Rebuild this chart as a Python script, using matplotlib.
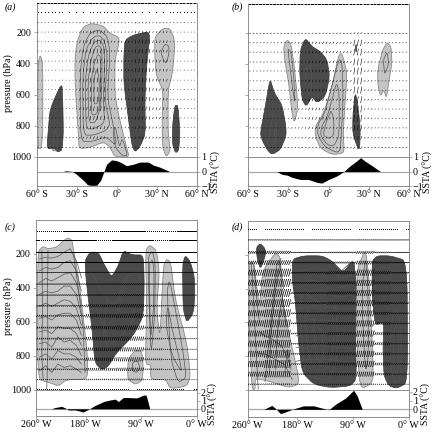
import numpy as np
import matplotlib
matplotlib.use('Agg')
import matplotlib.pyplot as plt
from matplotlib.path import Path
from matplotlib.patches import PathPatch

plt.rcParams['font.family'] = ['Liberation Serif', 'DejaVu Serif']
plt.rcParams['font.size'] = 7.2

LIGHT = '#c4c4c4'
DARK = '#4a4a4a'
FRAME = '#8c8c8c'

# --- panel a ---
a_light = [
    ([-59, -59, -57.3, -55.3, -55.3, -56.5], [947, 423, 343, 401, 850, 947]),
    ([-28.2, -28.7, -31.2, -31.2, -29.4, -25, -18.8, -10, -5.1, 1.1, 1.9, -1.4, -1.4, 1.1, 7.3, 9.3, -1.4, -5.1, -10, -18.8],
     [947, 850, 530, 358, 251, 166, 144, 161, 209, 230, 262, 380, 594, 722, 936, 1000, 1000, 936, 904, 936]),
    ([28.4, 34.7, 39.6, 42.6, 43.4, 41.6, 38.4, 38.4, 40.1, 37.1, 34.2, 33.9, 34.7, 29.7, 28.4],
     [230, 176, 176, 230, 294, 465, 572, 850, 958, 1000, 936, 744, 572, 487, 358]),
]
a_dark = [
    ([-52.3, -51, -49.8, -41, -40.4, -39.9, -41, -44.3, -46.1], [947, 808, 690, 523, 637, 850, 958, 968, 947]),
    ([6.1, 12.3, 23.5, 24.7, 22.2, 21, 21.5, 17.3, 13.5, 11.1, 8.6, 5.3, 5.3],
     [251, 219, 198, 230, 423, 637, 850, 936, 968, 915, 744, 530, 358]),
    ([43.4, 45.8, 47.3, 46.3, 43.9, 41.6, 41.6], [669, 669, 850, 958, 974, 915, 808]),
]
a_lines = [
    ([-27, -27.5, -25, -20, -13, -7, -5, -7, -3, 0, -8, -18], [900, 480, 290, 205, 185, 230, 330, 620, 780, 930, 870, 900]),
    ([-25, -25.5, -23, -18, -13, -9, -7, -9, -5, -8, -17], [860, 490, 310, 235, 220, 260, 350, 640, 790, 830, 860]),
    ([-23, -23.5, -21, -17, -13, -10, -9, -10, -9, -17], [820, 500, 340, 265, 250, 285, 370, 650, 780, 820]),
    ([-21, -21.5, -19, -16, -13, -11, -11, -12, -16], [780, 510, 370, 295, 285, 320, 500, 680, 780]),
    ([-19, -19, -17, -14, -12, -12, -13, -16], [730, 510, 400, 340, 360, 520, 690, 730]),
    ([-17, -17, -15, -13, -13.5, -15], [660, 500, 430, 500, 640, 660]),
    ([2, 4, 6, 8, 4, -1, -3, -1], [940, 880, 930, 990, 990, 940, 850, 800]),
    ([9, 13, 19, 20, 17, 15, 12, 9.5], [360, 285, 265, 300, 480, 700, 700, 500]),
    ([12, 15, 18, 17.5, 15, 13], [350, 310, 300, 450, 500, 450]),
    ([33, 36, 39, 39, 37, 35], [330, 275, 290, 340, 400, 380]),
    ([-48, -46, -44, -44.5, -47], [960, 810, 900, 960, 960]),
]
a_open = []
a_levels = [16, 76, 140, 200, 262, 322, 386, 444, 508, 568, 630, 690, 750, 812, 876, 940]
a_u = [1.7, 0.6, 0.8, 0.6, 0.5, 0.5, 0.5, 0.4, 0.4, 0.4, 0.5, 0.5, 0.6, 0.6, 0.8, 1.0]
a_edges = [-60, -30, -20, -8, 3, 14, 25, 38, 60]
a_v = [4, 18, 30, 10, 12, 26, 16, 4]
a_vf = [0, 0, 0.3, 0.6, 1, 1, 1, 1, 1, 1, 1, 1, 0.8, 0.6, 0.5, 0.3]
a_sst_lon = [-60, -40, -38, -33, -30, -25, -22, -20, -15, -12, -10, -7.6, -3.9, -0.1, 3.6, 7.3, 12.3, 17.3, 23.5, 27.2, 32.2, 37.1, 39.6, 60]
a_sst = [0, 0, 0.05, 0, -0.2, -0.6, -0.9, -0.95, -0.95, -0.6, -0.1, 0.5, 0.8, 0.75, 0.6, 0.4, 0.5, 0.65, 0.65, 0.45, 0.3, 0.1, 0, 0]

# --- panel b ---
b_light = [
    ([-33.6, -31.1, -28.1, -25.6, -23.6, -23.1, -25.6, -27.3, -29.8, -32.8], [286, 243, 265, 415, 587, 695, 780, 716, 522, 372]),
    ([7.6, 10.1, 13.9, 12.6, 10.9, 11.9, 2.6, -6.1, -9.9, -9.9, -3.6, 2.6], [340, 329, 458, 630, 845, 974, 985, 942, 866, 802, 716, 544]),
    ([36.8, 40.5, 43.8, 46.8, 47.5, 45, 43.3, 41.3, 38.8, 36.8], [436, 307, 260, 286, 393, 522, 619, 565, 608, 522]),
]
b_dark = [
    ([-51, -47.3, -44.8, -43.5, -40.5, -34.8, -31.8, -31.8, -36, -42.3, -46, -49.8], [845, 673, 544, 501, 587, 662, 802, 866, 952, 985, 952, 888]),
    ([-21.1, -17.3, -12.3, -6.1, -1.1, 0.9, -2.4, -8.6, -12.3, -16.6, -19.8, -21.6], [307, 232, 286, 318, 372, 479, 608, 651, 608, 673, 630, 458]),
    ([20.1, 21.3, 23.8, 23.3, 21.3, 18.1, 18.3], [587, 630, 802, 952, 931, 845, 716]),
    ([20.3, 21, 21, 20.3], [275, 275, 318, 318]),
]
b_lines = [
    ([-44, -41, -39, -39, -42, -45, -46], [880, 680, 790, 900, 950, 950, 880]),
    ([-41, -40, -40.5, -42], [900, 800, 900, 930]),
    ([-30.5, -28, -26, -25, -27, -29], [300, 320, 480, 660, 550, 400]),
    ([-17, -14, -12, -14, -17], [420, 400, 500, 590, 560]),
    ([8, 10, 11, 9, 7, 3, -3, -8, -8, -3, 2, 6], [370, 380, 620, 950, 970, 960, 930, 860, 790, 720, 560, 420]),
    ([6, 8, 8, 4, -1, -6, -5, -1, 3], [520, 580, 860, 930, 920, 860, 800, 740, 620]),
    ([2, 4, 4, 0, -4, -2, 1], [700, 760, 860, 880, 860, 780, 720]),
    ([41, 44, 45, 42], [370, 320, 400, 470]),
]
b_open = []
b_levels = [16, 76, 140, 200, 262, 322, 386, 444, 508, 568, 630, 690, 750, 812, 876, 940]
b_u = [1.7, 1.3, 1.3, 1.3, 1.0, 0.9, 0.9, 0.8, 0.8, 0.8, 0.8, 0.7, 0.7, 0.8, 1.0, 1.2]
b_edges = [-60, -30, -15, 0, 12, 18, 26, 34, 60]
b_v = [3, 8, 16, 12, 10, 44, 8, 3]
b_vf = [0, 0, 0, 0.2, 0.9, 1, 1, 1, 1, 1, 1, 1, 1, 0.8, 0.5, 0.3]
b_sst_lon = [-60, -38.5, -34.8, -31, -27.3, -21, -15, -8.6, -5, 0, 6.4, 11.4, 16.3, 20, 24, 27.6, 32.6, 38.8, 60]
b_sst = [0, 0, -0.2, -0.25, -0.4, -0.55, -0.55, -0.75, -0.8, -0.55, -0.3, 0, 0.4, 0.65, 0.95, 0.7, 0.4, 0, 0]

# --- panel c ---
c_light = [
    ([-258, -249, -241, -227, -216, -208, -202, -200, -192, -184, -177, -177, -211, -224, -238, -258],
     [190, 155, 170, 160, 121, 105, 121, 170, 328, 565, 800, 941, 941, 980, 960, 941]),
    ([-83, -76, -65, -60.5, -65, -59.5, -54, -48.6, -42, -35, -16, -10, -16, -43, -50, -74.6, -74.6, -81, -83, -81],
     [180, 147, 180, 309, 526, 704, 269, 230, 249, 467, 723, 921, 980, 996, 941, 941, 852, 852, 822, 467]),
    ([-112, -111, -100, -89, -86.5, -89, -100, -111], [901, 822, 769, 773, 881, 951, 970, 941]),
]
c_dark = [
    ([-181, -173, -159.5, -149, -138, -127, -119, -105, -86.5, -85, -86.5, -100, -113.5, -130, -143, -154, -165, -169, -179.5],
     [239, 190, 190, 269, 338, 269, 180, 206, 206, 368, 565, 664, 723, 783, 862, 885, 842, 664, 348]),
    ([-23, -19, -11, -4, -3, -5, -16, -22], [269, 210, 239, 328, 427, 546, 605, 526]),
]
c_row_lon = [-255, -245, -235, -225, -215, -205, -195, -187]
c_rows = [
    [230, 220, 225, 215, 190, 170, 240, 340],
    [300, 280, 290, 280, 250, 240, 300, 420],
    [370, 345, 360, 340, 320, 310, 370, 500],
    [440, 420, 430, 420, 390, 390, 440, 560],
    [510, 490, 510, 490, 470, 480, 520, 620],
    [580, 570, 590, 560, 550, 550, 590, 680],
    [660, 650, 670, 630, 640, 640, 670, 740],
    [730, 720, 750, 690, 720, 710, 740, 800],
    [810, 790, 820, 770, 790, 790, 810, 850],
    [890, 860, 900, 850, 870, 860, 880, 900],
]
c_lines = [
    ([-79, -72, -67, -68, -74, -77], [220, 180, 260, 550, 800, 500]),
    ([-77, -72, -69, -70, -75], [260, 230, 300, 530, 720]),
    ([-48, -44, -35, -22, -17, -30, -42], [420, 350, 520, 780, 930, 960, 820]),
    ([-50, -47, -40, -28, -24, -40], [620, 500, 640, 820, 900, 800]),
    ([-104, -96, -92, -97, -104], [840, 830, 870, 900, 890]),
]
c_open = [
    ([-251, -250, -251, -249], [180, 500, 800, 940]),
    ([-241, -242, -241, -243], [180, 480, 700, 1000]),
    ([-200, -192, -184, -181], [200, 400, 640, 900]),
    ([-172, -168, -163, -155, -150, -146, -135, -128, -120, -110, -95, -90],
     [300, 320, 360, 420, 440, 460, 500, 480, 370, 320, 310, 370]),
    ([-163, -158, -150, -145, -135, -127, -118, -105, -100], [520, 560, 640, 700, 720, 700, 660, 600, 520]),
    ([-145, -148, -152, -142], [470, 560, 660, 780]),
    ([-128, -124, -118, -113], [560, 480, 400, 340]),
]
c_levels = [66, 123, 190, 249, 309, 378, 443, 506, 565, 635, 700, 763, 822, 881, 941, 1000]
c_u = [2.4, 2.8, 3.4, 3.4, 3.4, 3.4, 3.2, 2.6, 2.2, 2.2, 1.8, 1.5, 1.5, 1.6, 1.4, 1.4]
c_edges = [-260, -180, -130, -85, -55, 0]
c_v = [10, 20, 24, 10, 4]
c_vf = [0, 0, 0, 0, 0.1, 0.2, 0.4, 0.8, 1, 1, 1, 1, 1, 0.8, 0.4, 0]
c_sst_lon = [-260, -235, -230, -219, -213, -208, -197, -184, -176, -165, -151, -140, -132, -127, -119, -111, -97, -86.5, -82, -76, 0]
c_sst = [0, 0, 0.15, 0.3, 0.1, -0.15, -0.15, -0.4, -0.1, 0.4, 0.9, 1.1, 1.2, 0.9, 1.4, 1.4, 1.35, 1.7, 1.7, 0, 0]

# --- panel d ---
d_light = [
    ([-258, -250, -241, -236, -215, -207, -204.5, -194, -178, -178, -194, -218, -240, -248, -248, -253, -256, -258],
     [246, 246, 516, 296, 186, 216, 456, 656, 916, 966, 986, 956, 936, 936, 996, 996, 756, 556]),
    ([-84.5, -70, -64.6, -59, -57, -78, -83.5], [296, 166, 316, 716, 956, 996, 756]),
]
d_dark = [
    ([-246, -239.5, -231.5, -231.5, -239.5, -245], [156, 132, 166, 206, 286, 216]),
    ([-188, -169.6, -140, -124, -106, -89, -85, -86, -84.5, -94, -126.5, -153.4, -172, -178, -183, -188],
     [226, 206, 206, 236, 306, 226, 356, 656, 936, 976, 986, 966, 896, 716, 476, 356]),
    ([-59, -51, -29.6, -2.7, -1.7, -19, -32, -40, -41.5, -40, -54, -59], [236, 206, 206, 236, 956, 990, 976, 916, 756, 596, 616, 456]),
]
d_row_lon = [-182, -170, -155, -140, -125, -110, -95, -87]
d_rows = [
    [240, 225, 225, 225, 240, 300, 250, 250],
    [300, 290, 280, 285, 300, 340, 320, 320],
    [370, 360, 350, 360, 370, 390, 380, 380],
    [440, 430, 420, 430, 440, 450, 440, 450],
    [520, 510, 500, 510, 510, 520, 520, 520],
    [600, 590, 580, 590, 590, 600, 590, 600],
    [680, 670, 660, 665, 670, 680, 670, 680],
    [750, 750, 740, 740, 745, 750, 750, 760],
    [830, 820, 820, 815, 820, 830, 830, 835],
]
d_lines = [
    ([-176, -170, -150, -135, -125, -118, -115, -118, -130, -150, -168, -172],
     [480, 420, 470, 500, 470, 480, 700, 860, 940, 930, 900, 700]),
    ([-168, -160, -143, -130, -124, -120, -124, -135, -150, -162],
     [560, 510, 520, 560, 540, 620, 820, 880, 880, 800]),
    ([-155, -150, -140, -138, -142, -150], [560, 620, 650, 800, 840, 800]),
    ([-30, -25, -18, -13, -12, -14, -22, -29], [680, 540, 520, 640, 800, 930, 960, 860]),
    ([-25, -20, -16, -16, -20, -25], [680, 600, 650, 860, 920, 840]),
    ([-76, -70, -66, -65, -70], [440, 210, 360, 800, 900]),
]
d_open = [
    ([-254, -250, -246, -243], [250, 500, 800, 996]),
    ([-250, -245, -241], [260, 480, 600]),
    ([-232, -228, -220, -213, -206], [950, 800, 500, 260, 220]),
    ([-225, -222, -215, -208, -202], [900, 650, 400, 250, 400]),
    ([-215, -212, -204, -198], [880, 650, 450, 620]),
    ([-200, -196, -190], [900, 760, 880]),
    ([-240, -232, -220, -205, -190], [660, 680, 700, 740, 860]),
    ([-245, -230, -215, -200, -188], [780, 790, 820, 850, 940]),
    ([-54, -40, -20, -4], [290, 270, 300, 310]),
    ([-54, -40, -20, -4], [370, 370, 360, 370]),
]
d_levels = [52, 112, 186, 246, 306, 366, 426, 486, 546, 606, 666, 726, 786, 846, 906, 966]
d_u = [1.4, 3, 3.4, 3.4, 3.4, 3.4, 3.4, 3.2, 2.8, 2.6, 2.4, 2.4, 2.2, 2.2, 2, 1.6]
d_edges = [-260, -235, -190, -130, -85, -55, -30, 0]
d_v = [36, 46, 8, 16, 36, 16, 6]
d_vf = [0, 0.05, 0.4, 0.6, 1, 1, 1, 1, 1, 1, 1, 1, 1, 1, 0.8, 0.2]
d_sst_lon = [-260, -234, -221, -215, -207, -199, -186, -170, -153, -143, -129, -118, -102, -89, -83.5, -75, 0]
d_sst = [0, 0, 0.45, 0.1, -0.5, -0.3, 0.05, 0.4, 0.4, 0.2, -0.05, 0.6, 1.3, 2.2, 1.6, 0, 0]

W, H = 434, 432
fig = plt.figure(figsize=(W / 100, H / 100), dpi=100)


def rect(x0, x1, y0, y1):
    return [x0 / W, 1 - y1 / H, (x1 - x0) / W, (y1 - y0) / H]


def smooth_path(xs, ys, t=0.3):
    # closed outline with rounded corners
    p = np.column_stack([xs, ys]).astype(float)
    prev = np.roll(p, 1, axis=0)
    nxt = np.roll(p, -1, axis=0)
    verts, codes = [], []
    for i in range(len(p)):
        verts += [p[i] + t * (prev[i] - p[i]), p[i], p[i] + t * (nxt[i] - p[i])]
        codes += [Path.MOVETO if i == 0 else Path.LINETO, Path.CURVE3, Path.CURVE3]
    verts.append(verts[0])
    codes.append(Path.LINETO)
    return Path(verts, codes)


def draw_panel(box, sst_box, xlim, top, light, dark, lines, opened, levels, u, edges, v, vf,
               sst_lon, sst, sst_lim, sst_ticks, xticks, xlabels, step, stroke, rows=None, row_lon=None, ylabels=False):
    ax = fig.add_axes(rect(*box))
    ax.set_xlim(*xlim)
    ax.set_ylim(1000, top)
    for xs, ys in light:
        ax.add_patch(PathPatch(smooth_path(xs, ys), fc=LIGHT, ec='#8a8a8a', lw=0.6, zorder=1))
    for xs, ys in dark:
        ax.add_patch(PathPatch(smooth_path(xs, ys), fc=DARK, ec='#383838', lw=0.5, zorder=1))
    for xs, ys in lines:
        ax.add_patch(PathPatch(smooth_path(xs, ys), fc='none', ec='#555555', lw=0.5, zorder=2))
    for xs, ys in opened:
        ax.plot(xs, ys, color='#555555', lw=0.5, zorder=2)
    if rows:
        for row in rows:
            ax.plot(row_lon, row, color='#555555', lw=0.5, zorder=2)

    lons = np.arange(xlim[0] + step / 2, xlim[1], step)
    X, Y = np.meshgrid(lons, levels)
    U = np.array(u)[:, None] * np.ones(len(lons))
    band = np.digitize(lons, edges[1:-1])
    V = -np.outer(vf, np.array(v)[band])
    ax.quiver(X, Y, U, V, angles='xy', scale_units='xy', scale=1, units='dots', width=stroke,
              headwidth=1, headlength=0, headaxislength=0, color='black', pivot='mid', zorder=3)

    ax.set_xticks([])
    ax.set_yticks([200, 400, 600, 800, 1000])
    ax.tick_params(axis='y', length=2, width=0.5, color=FRAME, pad=2, labelleft=ylabels)
    for s in ax.spines.values():
        s.set_color(FRAME)
        s.set_linewidth(0.7)

    bx = fig.add_axes(rect(*sst_box))
    bx.fill_between(sst_lon, 0, sst, color='black', lw=0, zorder=2)
    bx.axhline(0, color='#a8a8a8', lw=0.9, zorder=1)
    bx.set_xlim(*xlim)
    bx.set_ylim(*sst_lim)
    bx.set_xticks(xticks)
    bx.set_xticklabels(xlabels)
    bx.set_yticks(sst_ticks)
    bx.yaxis.tick_right()
    bx.tick_params(axis='both', length=2, width=0.5, color=FRAME, pad=1)
    for s in bx.spines.values():
        s.set_color(FRAME)
        s.set_linewidth(0.7)


lat_ticks = [-60, -30, 0, 30, 60]
lat_labels = ['60° S', '30° S', '0°', '30° N', '60° N']
lon_ticks = [-260, -180, -90, 0]
lon_labels = ['260° W', '180° W', '90° W', '0° W']

draw_panel((36.5, 197, 2.7, 157), (36.5, 197, 157, 186), (-60, 60), 12, a_light, a_dark, a_lines, a_open,
           a_levels, a_u, a_edges, a_v, a_vf, a_sst_lon, a_sst, (-1, 1), [-1, 0, 1], lat_ticks, lat_labels, 2.6, 0.55, ylabels=True)
draw_panel((248.3, 408.7, 4, 157), (248.3, 408.7, 157, 186), (-60, 60), 11, b_light, b_dark, b_lines, b_open,
           b_levels, b_u, b_edges, b_v, b_vf, b_sst_lon, b_sst, (-1, 1), [-1, 0, 1], lat_ticks, lat_labels, 2.6, 0.55)
draw_panel((36.3, 196.7, 220, 389.5), (36.3, 196.7, 389.5, 416), (-260, 0), 0, c_light, c_dark, c_lines, c_open,
           c_levels, c_u, c_edges, c_v, c_vf, c_sst_lon, c_sst, (-0.9, 2.4), [0, 1, 2], lon_ticks, lon_labels, 3.3, 0.75,
           rows=c_rows, row_lon=c_row_lon, ylabels=True)
draw_panel((247.7, 408.7, 221, 390), (247.7, 408.7, 390, 416.7), (-260, 0), 0, d_light, d_dark, d_lines, d_open,
           d_levels, d_u, d_edges, d_v, d_vf, d_sst_lon, d_sst, (-0.85, 2.23), [0, 1, 2], lon_ticks, lon_labels, 3.3, 0.75,
           rows=d_rows, row_lon=d_row_lon)

for x, y, s in ((5, 7, 'a'), (232, 7, 'b'), (5, 227, 'c'), (232, 227, 'd')):
    fig.text(x / W, 1 - y / H, f'({s})', style='italic', va='center', fontsize=7)
for y in (83, 306):
    fig.text(8 / W, 1 - y / H, 'pressure (hPa)', rotation=90, ha='center', va='center')
for x, y in ((216, 172), (428, 172), (213, 404), (426, 404)):
    fig.text(x / W, 1 - y / H, 'SSTA (°C)', rotation=90, ha='center', va='center', fontsize=7)

fig.savefig('out.png', dpi=100)
